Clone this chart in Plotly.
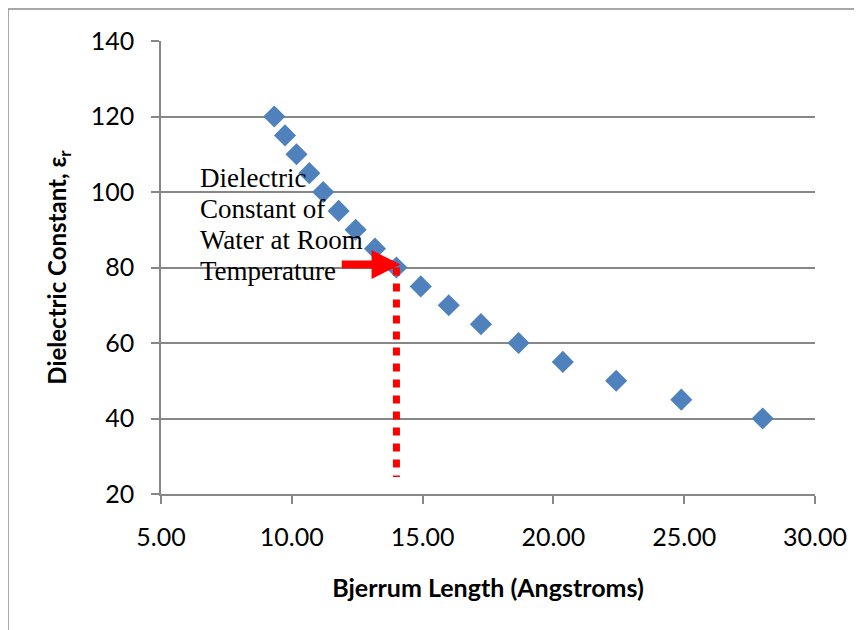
import plotly.graph_objects as go

# Data
bjerrum_length = [9.33, 9.74, 10.18, 10.67, 11.20, 11.79, 12.44, 13.18, 14.00,
                  14.93, 16.00, 17.23, 18.67, 20.36, 22.40, 24.89, 28.00]
dielectric_const = [120, 115, 110, 105, 100, 95, 90, 85, 80,
                    75, 70, 65, 60, 55, 50, 45, 40]

water_length = 14.0
water_eps = 80
dotted_bottom = 24.5
arrow_tail_x = 11.85
arrow_tip_x = 14.15
arrow_y = 80.8

note_lines = ["Dielectric", "Constant of", "Water at Room", "Temperature"]
note_y = [103.8, 95.6, 87.2, 79.2]
note_x = 6.42

x_ticks = [5, 10, 15, 20, 25, 30]
y_ticks = [20, 40, 60, 80, 100, 120, 140]

GRID = "#878787"
BLUE = "#4F81BD"

fig = go.Figure()
fig.add_trace(go.Scatter(
    x=bjerrum_length, y=dielectric_const, mode="markers",
    marker=dict(symbol="diamond", size=17, color=BLUE, line=dict(width=0)),
    showlegend=False, hoverinfo="x+y"))

# red dotted drop line
fig.add_shape(type="line", xref="x", yref="y",
              x0=water_length, x1=water_length, y0=water_eps, y1=dotted_bottom,
              line=dict(color="#FF0000", width=7, dash="8px,8px"), layer="above")

# outer chart border
fig.add_shape(type="rect", xref="paper", yref="paper",
              x0=-153 / 654, x1=1.2, y0=-0.5, y1=1 + 32 / 453,
              line=dict(color="#8C8C8C", width=1.5), fillcolor="rgba(0,0,0,0)", layer="below")

# red arrow
fig.add_annotation(x=arrow_tip_x, y=arrow_y, ax=arrow_tail_x, ay=arrow_y,
                   xref="x", yref="y", axref="x", ayref="y", text="",
                   showarrow=True, arrowhead=2, arrowsize=0.72, arrowwidth=8,
                   arrowcolor="#FF0000")

for line, yy in zip(note_lines, note_y):
    fig.add_annotation(x=note_x, y=yy, xref="x", yref="y", text=line,
                       showarrow=False, xanchor="left", yanchor="middle",
                       font=dict(family="Liberation Serif", size=27, color="black"))

fig.update_layout(
    width=854, height=622,
    margin=dict(l=153, r=47, t=33, b=136, autoexpand=False),
    paper_bgcolor="white", plot_bgcolor="white",
    font=dict(family="Lato", color="black"),
    xaxis=dict(
        range=[5, 30], tickvals=x_ticks, tickformat=".2f",
        showgrid=False, zeroline=False, automargin=False,
        showline=True, linecolor=GRID, linewidth=1.5,
        ticks="outside", ticklen=8, tickwidth=1.5, tickcolor=GRID,
        tickfont=dict(family="Lato", size=25, color="black"),
        ticklabelstandoff=12,
        title=dict(text="<b>Bjerrum Length (Angstroms)</b>", standoff=30,
                   font=dict(family="Lato", size=25, color="black")),
    ),
    yaxis=dict(
        range=[20, 140], tickvals=y_ticks,
        showgrid=True, gridcolor=GRID, gridwidth=1.5, zeroline=False, automargin=False,
        showline=True, linecolor=GRID, linewidth=1.5,
        ticks="outside", ticklen=8, tickwidth=1.5, tickcolor=GRID,
        tickfont=dict(family="Lato", size=25, color="black"),
        ticklabelstandoff=12,
        title=dict(text="<b>Dielectric Constant, ε<sub>r</sub></b>", standoff=17,
                   font=dict(family="Lato", size=24, color="black")),
    ),
)

fig.write_html("out.html")
